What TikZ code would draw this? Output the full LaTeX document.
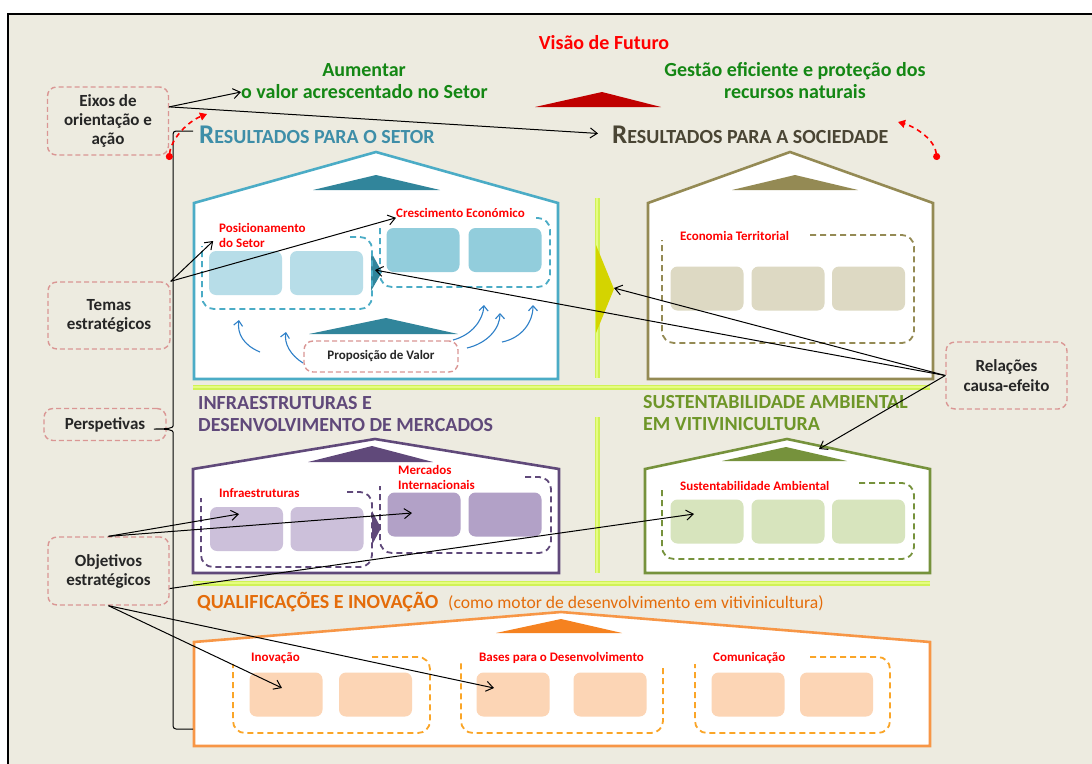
\documentclass[tikz,border=0pt]{standalone}
\usepackage{fontspec}
\setmainfont{Carlito}
\usepackage{tikz}
\usetikzlibrary{arrows.meta,positioning,calc}
\definecolor{bgbeige}{RGB}{237,235,224}
\definecolor{tagpink}{RGB}{218,150,148}
\definecolor{vgreen}{RGB}{20,135,20}
\definecolor{visdark}{RGB}{192,0,0}
\definecolor{setorline}{RGB}{75,172,198}
\definecolor{setordark}{RGB}{49,133,155}
\definecolor{setorhead}{RGB}{62,142,168}
\definecolor{setorlight}{RGB}{183,221,232}
\definecolor{setormid}{RGB}{146,205,220}
\definecolor{socline}{RGB}{148,138,84}
\definecolor{sochead}{RGB}{74,69,52}
\definecolor{socbox}{RGB}{221,217,195}
\definecolor{infline}{RGB}{96,73,122}
\definecolor{inflight}{RGB}{204,192,218}
\definecolor{infmid}{RGB}{178,161,199}
\definecolor{ambline}{RGB}{118,146,60}
\definecolor{ambhead}{RGB}{110,150,40}
\definecolor{amblight}{RGB}{215,228,189}
\definecolor{qualline}{RGB}{247,150,70}
\definecolor{qualdark}{RGB}{245,130,32}
\definecolor{qualdash}{RGB}{250,165,40}
\definecolor{qualhead}{RGB}{228,108,10}
\definecolor{quallight}{RGB}{252,213,181}
\definecolor{limebar}{RGB}{208,242,85}
\definecolor{limelight}{RGB}{230,252,130}
\definecolor{ytri}{RGB}{212,212,0}
\definecolor{liftblue}{RGB}{46,128,200}
\tikzstyle{tag} = [draw=tagpink, dash pattern=on 5pt off 3pt, line width=1.4pt, rounded corners=9pt, align=center, inner sep=0pt, text=black!85, font=\fontsize{17}{19}\selectfont\bfseries]
\tikzstyle{cell} = [rounded corners=7pt, minimum width=73pt, minimum height=44pt, inner sep=0pt]
\tikzstyle{grp} = [dash pattern=on 6pt off 4pt, line width=1.8pt, rounded corners=12pt]
\tikzstyle{grplab} = [anchor=west, inner sep=0pt, align=left, text=red, font=\fontsize{13}{15}\selectfont\bfseries]
\tikzstyle{house} = [line width=2.6pt, fill=white]
\tikzstyle{headtxt} = [anchor=west, inner sep=0pt, align=left, font=\fontsize{20}{22}\selectfont\bfseries]
\tikzstyle{sepbar} = [line width=5pt, draw=limebar]
\tikzstyle{sepmid} = [line width=1.5pt, draw=limelight]
\tikzstyle{link} = [line width=1pt, -{Straight Barb[length=7pt,width=10pt]}]
\tikzstyle{lift} = [line width=1.1pt, draw=liftblue, -{Straight Barb[length=5pt,width=9pt]}]
\tikzstyle{cyc} = [draw=red, line width=1.6pt, dash pattern=on 5pt off 4pt, {Circle[length=7pt]}-{Triangle[length=7pt,width=8pt]}]

\begin{document}
\begin{tikzpicture}[x=1pt, y=-1pt]
\useasboundingbox (0,0) rectangle (1092,763);
\fill[white] (0,0) rectangle (1092,763);
\draw[line width=2pt, fill=bgbeige] (8,14) rectangle (1110,780);

% vision
\node[font=\fontsize{20}{22}\selectfont\bfseries, text=red] (vis) at (604,43) {Visão de Futuro};
\node[font=\fontsize{20}{22}\selectfont\bfseries, text=vgreen] (aum) at (364,70) {Aumentar};
\node[headtxt, text=vgreen] (valor) at (241,92) {o valor acrescentado no Setor};
\node[align=center, font=\fontsize{20}{22}\selectfont\bfseries, text=vgreen] (gest) at (795,81) {Gestão eficiente e proteção dos\\recursos naturais};
\fill[visdark] (535,107) -- (602,92) -- (661,107) -- cycle;

\node[anchor=base west, inner sep=0pt, text=setorhead, font=\bfseries] (setres) at (199,143) {{\fontsize{27}{27}\selectfont R}{\fontsize{20}{20}\selectfont ESULTADOS PARA O SETOR}};
\node[anchor=base west, inner sep=0pt, text=sochead, font=\bfseries] (socres) at (612,143) {{\fontsize{27}{27}\selectfont R}{\fontsize{20}{20}\selectfont ESULTADOS PARA A SOCIEDADE}};

% houses
\draw[house, draw=setorline] (194,379) -- (194,203) -- (376,152) -- (558,203) -- (558,379) -- cycle;
\fill[setordark] (313,190) -- (376,175) -- (440,190) -- cycle;
\fill[setordark] (309,334) -- (386,318) -- (458,334) -- cycle;
\fill[setordark] (371,252) -- (382,272) -- (371,291) -- cycle;
\draw[house, draw=socline] (648,379) -- (648,203) -- (790,152) -- (933,203) -- (933,379) -- cycle;
\fill[socline] (732,190) -- (795,175) -- (858,190) -- cycle;
\draw[house, draw=infline] (193,573) -- (193,469) -- (375,439) -- (559,469) -- (559,573) -- cycle;
\fill[infline] (308,462) -- (372,446) -- (433,462) -- cycle;
\fill[infline] (372,511) -- (381,528) -- (372,545) -- cycle;
\draw[house, draw=ambline] (645,573) -- (645,469) -- (787,439) -- (930,469) -- (930,573) -- cycle;
\fill[ambline] (722,461) -- (786,447) -- (847,461) -- cycle;
\draw[house, draw=qualline] (194,746) -- (194,642) -- (561,612) -- (930,642) -- (930,746) -- cycle;
\fill[qualdark] (496,633) -- (561,619) -- (622,633) -- cycle;

% separators
\draw[sepbar] (193,387) -- (930,387);
\draw[sepbar] (193,583) -- (930,583);
\draw[sepbar] (597,198) -- (597,378);
\draw[sepbar] (597,417) -- (597,573);
\draw[sepmid] (193,387) -- (930,387);
\draw[sepmid] (193,583) -- (930,583);
\draw[sepmid] (597,198) -- (597,378);
\draw[sepmid] (597,417) -- (597,573);
\fill[ytri] (596,245) -- (614,289) -- (596,333) -- cycle;

% headings
\node[headtxt, text=infline] (infhead) at (198,414) {INFRAESTRUTURAS E\\DESENVOLVIMENTO DE MERCADOS};
\node[headtxt, text=ambhead] (ambhead) at (643,413) {SUSTENTABILIDADE AMBIENTAL\\EM VITIVINICULTURA};
\node[headtxt, text=qualhead] (qualhead) at (197,602) {QUALIFICAÇÕES E INOVAÇÃO};
\node[anchor=west, inner sep=0pt, text=qualhead, font=\fontsize{17.6}{19}\selectfont] (qualsub) at (448,603) {(como motor de desenvolvimento em vitivinicultura)};

% cells
\node[cell, fill=setorlight] (pos1) at (245.5,273) {};
\node[cell, fill=setorlight] (pos2) at (326.5,273) {};
\node[cell, fill=setormid] (cres1) at (423,250) {};
\node[cell, fill=setormid] (cres2) at (505,250) {};
\node[cell, fill=socbox] (ter1) at (707,288.5) {};
\node[cell, fill=socbox] (ter2) at (788,288.5) {};
\node[cell, fill=socbox] (ter3) at (868.5,288.5) {};
\node[cell, fill=inflight] (inf1) at (246.5,529) {};
\node[cell, fill=inflight] (inf2) at (327,529) {};
\node[cell, fill=infmid] (merc1) at (424,514.5) {};
\node[cell, fill=infmid] (merc2) at (505,514.5) {};
\node[cell, fill=amblight] (amb1) at (707,521.5) {};
\node[cell, fill=amblight] (amb2) at (788,521.5) {};
\node[cell, fill=amblight] (amb3) at (868.5,521.5) {};
\node[cell, fill=quallight] (inov1) at (286,694.5) {};
\node[cell, fill=quallight] (inov2) at (375.5,694.5) {};
\node[cell, fill=quallight] (bases1) at (513,694.5) {};
\node[cell, fill=quallight] (bases2) at (610,694.5) {};
\node[cell, fill=quallight] (com1) at (748,694.5) {};
\node[cell, fill=quallight] (com2) at (836.5,694.5) {};

% groups
\draw[grp, draw=setorline] (350,237) -- (372,237) -- (372,309) -- (202,309) -- (202,246);
\draw[grp, draw=setorline] (536,218) -- (550,218) -- (550,287) -- (380,287) -- (380,226);
\draw[grp, draw=socline] (810,235) -- (914,235) -- (914,343) -- (662,343) -- (662,240);
\draw[grp, draw=infline] (347,492) -- (372,492) -- (372,567) -- (201,567) -- (201,498);
\draw[grp, draw=infline] (525,477) -- (551,477) -- (551,553) -- (380,553) -- (380,486);
\draw[grp, draw=ambline] (859,483) -- (914,483) -- (914,559) -- (662,559) -- (662,490);
\draw[grp, draw=qualdash] (372,657) -- (430,657) -- (430,733) -- (233,733) -- (233,664);
\draw[grp, draw=qualdash] (663,668) -- (663,733) -- (461,733) -- (461,662);
\draw[grp, draw=qualdash] (810,657) -- (890,657) -- (890,733) -- (695,733) -- (695,664);

\node[grplab] (poslab) at (219,235.5) {Posicionamento\\do Setor};
\node[grplab] (creslab) at (396,213) {Crescimento Económico};
\node[grplab] (terlab) at (680,236) {Economia Territorial};
\node[grplab] (inflab) at (219,493) {Infraestruturas};
\node[grplab] (merclab) at (398,477) {Mercados\\Internacionais};
\node[grplab] (amblab) at (680,486) {Sustentabilidade Ambiental};
\node[grplab] (inovlab) at (251,658) {Inovação};
\node[grplab] (baseslab) at (479,658) {Bases para o Desenvolvimento};
\node[grplab] (comlab) at (713,658) {Comunicação};

\node[tag, minimum width=154pt, minimum height=31pt, font=\fontsize{13}{15}\selectfont\bfseries] (prop) at (381,356.5) {Proposição de Valor};

% value proposition lifts
\coordinate (lf1a) at (260,352); \coordinate (lf1b) at (239,320);
\coordinate (lf2a) at (303,363); \coordinate (lf2b) at (286,332);
\coordinate (lf3a) at (453,340); \coordinate (lf3b) at (484,305);
\coordinate (lf4a) at (467,348); \coordinate (lf4b) at (500,313);
\coordinate (lf5a) at (502,342); \coordinate (lf5b) at (533,305);
\draw[lift] (lf1a) .. controls +(-17,-7) and +(-2,13) .. (lf1b);
\draw[lift] (lf2a) .. controls +(-13,-8) and +(-2,11) .. (lf2b);
\draw[lift] (lf3a) .. controls +(19,-5) and +(-1,15) .. (lf3b);
\draw[lift] (lf4a) .. controls +(21,-5) and +(0,15) .. (lf4b);
\draw[lift] (lf5a) .. controls +(20,-4) and +(0,17) .. (lf5b);

% left legend
\node[tag, minimum width=121pt, minimum height=68pt] (eixos) at (108,121) {Eixos de\\orientação e\\ação};
\node[tag, minimum width=122pt, minimum height=67pt] (temas) at (109,315.5) {Temas\\estratégicos};
\node[tag, minimum width=122pt, minimum height=32pt] (persp) at (105,424.5) {Perspetivas};
\node[tag, minimum width=121pt, minimum height=68pt] (obj) at (108.5,571) {Objetivos\\estratégicos};
\node[tag, minimum width=121pt, minimum height=67pt, font=\fontsize{17}{20}\selectfont\bfseries] (rel) at (1006.5,375.5) {Relações\\causa-efeito};

\draw[line width=1pt, rounded corners=3pt] (193,131) -- (173,131) -- (173,423) .. controls (173,428) and (168,429) .. (152,429) .. controls (168,429) and (173,430) .. (173,435) -- (173,729) -- (193,729);

\coordinate (vl1) at (169,160); \coordinate (vl2) at (207,114);
\coordinate (vr1) at (937,160); \coordinate (vr2) at (898,122);
\draw[cyc] (vl1) .. controls +(2,-22) and +(-18,7) .. (vl2);
\draw[cyc] (vr1) .. controls +(-2,-20) and +(18,5) .. (vr2);

% cause and effect
\coordinate (ytip) at (614,288);
\coordinate (stip) at (375,270);
\coordinate (ambroof) at (819,449);
\coordinate (inftip) at (239,514);
\coordinate (merctip) at (412,513);
\coordinate (ambtip) at (694,514);
\coordinate (inovtip) at (282,688);
\coordinate (basestip) at (494,688);
\draw[link] (eixos.13) -- (valor.west);
\draw[link, shorten >=14pt] (eixos.13) -- (socres.west);
\draw[link, shorten >=8pt] (temas.north east) -- (poslab.west);
\draw[link] (temas.north east) -- (creslab.south west);
\draw[link] (rel.west) -- (ytip);
\draw[link] (rel.west) -- (stip);
\draw[link] (rel.west) -- (ambroof);
\draw[link] (obj.north) -- (inftip);
\draw[link] (obj.north) -- (merctip);
\draw[link] (obj.-16) -- (ambtip);
\draw[link] (obj.south) -- (inovtip);
\draw[link] (obj.south) -- (basestip);
\end{tikzpicture}
\end{document}
